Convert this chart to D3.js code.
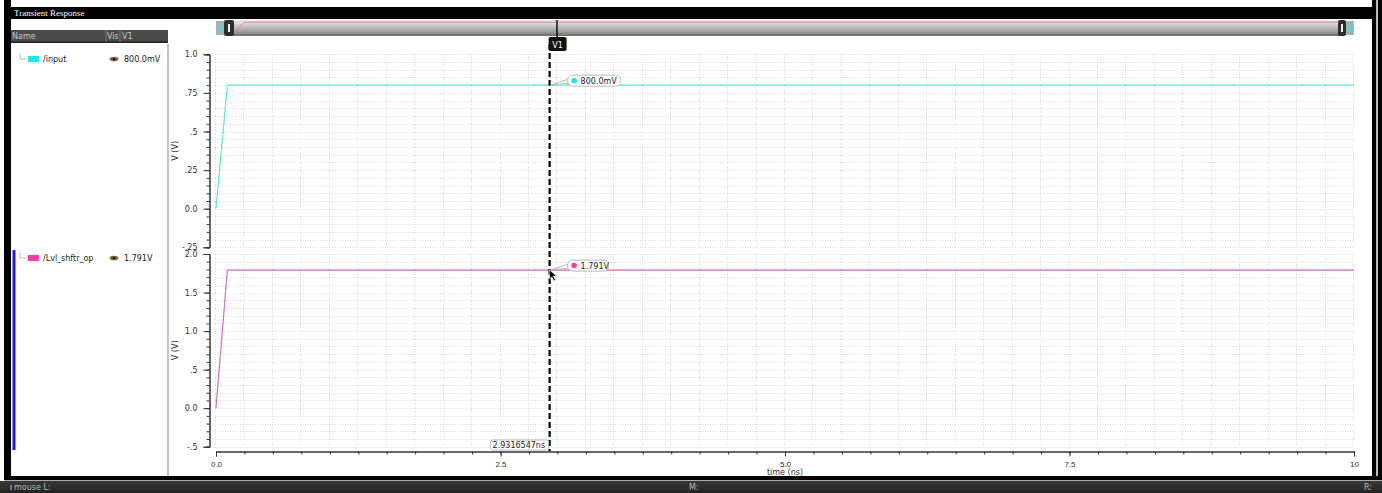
<!DOCTYPE html>
<html>
<head>
<meta charset="utf-8">
<script src="https://cdn.jsdelivr.net/npm/d3@7"></script>
<style>
  html, body { margin: 0; padding: 0; background: #fff; }
  svg { display: block; font-family: "DejaVu Sans", "Liberation Sans", sans-serif; }
</style>
</head>
<body>
<svg id="chart" width="1382" height="493"></svg>
<script>
// Transient simulation results (time in ns, voltages in V)
const timeNs = [0, 0.1, 10];
const inputV = [0, 0.8, 0.8];
const outputV = [0, 1.791, 1.791];

const signalNames = ["/input", "/Lvl_shftr_op"];
const signalColors = ["#5fe3e3", "#d36fc4"];
const legendSwatch = ["#22e5ee", "#ff3d9a"];
const cursorValueLabels = ["800.0mV", "1.791V"];
const cursorValues = [0.8, 1.791];

const cursorTime = 2.9316547;
const cursorTimeLabel = "2.9316547ns";

const xTickValues = [0, 2.5, 5, 7.5, 10];
const xTickLabels = ["0.0", "2.5", "5.0", "7.5", "10"];

const topTickValues = [1.0, 0.75, 0.5, 0.25, 0.0, -0.25];
const topTickLabels = ["1.0", ".75", ".5", ".25", "0.0", "-.25"];
const botTickValues = [2.0, 1.5, 1.0, 0.5, 0.0, -0.5];
const botTickLabels = ["2.0", "1.5", "1.0", ".5", "0.0", "-.5"];

const svg = d3.select("#chart");
const W = 1382, H = 493;
const defs = svg.append("defs");

// ---------- window chrome ----------
svg.append("rect").attr("x", 0).attr("y", 0).attr("width", W).attr("height", H).attr("fill", "#fff");
// left border
svg.append("rect").attr("x", 4).attr("y", 0).attr("width", 7).attr("height", 482).attr("fill", "#000");
// right border (double line)
svg.append("rect").attr("x", 1372).attr("y", 0).attr("width", 4).attr("height", 482).attr("fill", "#000");
svg.append("rect").attr("x", 1376).attr("y", 0).attr("width", 2).attr("height", 482).attr("fill", "#bbb");
svg.append("rect").attr("x", 1378).attr("y", 0).attr("width", 4).attr("height", 482).attr("fill", "#000");
// title bar
svg.append("rect").attr("x", 11).attr("y", 7).attr("width", 1361).attr("height", 12).attr("fill", "#000");
svg.append("text").attr("x", 14).attr("y", 16).attr("fill", "#fff")
  .style("font-family", "'Liberation Serif', serif").style("font-size", "9px").text("Transient Response");
// bottom border + status bar
svg.append("rect").attr("x", 4).attr("y", 476).attr("width", 1378).attr("height", 4).attr("fill", "#000");
svg.append("rect").attr("x", 4).attr("y", 480).attr("width", 1378).attr("height", 1).attr("fill", "#aaa");
const sg = defs.append("linearGradient").attr("id", "status").attr("x1", 0).attr("y1", 0).attr("x2", 0).attr("y2", 1);
sg.append("stop").attr("offset", 0).attr("stop-color", "#3a3a3a");
sg.append("stop").attr("offset", 1).attr("stop-color", "#222");
svg.append("rect").attr("x", 0).attr("y", 481).attr("width", W).attr("height", 12).attr("fill", "url(#status)");
svg.append("rect").attr("x", 10).attr("y", 485).attr("width", 2).attr("height", 5).attr("fill", "#777");
const statusStyle = s => s.attr("fill", "#b8b8b8").style("font-size", "8px");
svg.append("text").attr("x", 14).attr("y", 490).call(statusStyle).text("mouse L:");
svg.append("text").attr("x", 689).attr("y", 490).call(statusStyle).text("M:");
svg.append("text").attr("x", 1364).attr("y", 490).call(statusStyle).text("R:");

// ---------- left signal panel ----------
svg.append("rect").attr("x", 11).attr("y", 30).attr("width", 157).attr("height", 12).attr("fill", "#4b4b4b");
svg.append("rect").attr("x", 11).attr("y", 41).attr("width", 157).attr("height", 2).attr("fill", "#2b2b2b");
svg.append("line").attr("x1", 106).attr("x2", 106).attr("y1", 30).attr("y2", 42).attr("stroke", "#777");
svg.append("line").attr("x1", 120).attr("x2", 120).attr("y1", 30).attr("y2", 42).attr("stroke", "#777");
const headStyle = s => s.attr("fill", "#c8c8c8").style("font-size", "8px");
svg.append("text").attr("x", 12).attr("y", 39).call(headStyle).text("Name");
svg.append("text").attr("x", 107).attr("y", 39).call(headStyle).text("Vis");
svg.append("text").attr("x", 122).attr("y", 39).call(headStyle).text("V1");
// separator between panel and plots
svg.append("rect").attr("x", 167).attr("y", 44).attr("width", 2).attr("height", 432).attr("fill", "#c4c4c4");
// selection bar for the second signal
svg.append("rect").attr("x", 12.5).attr("y", 250).attr("width", 3).attr("height", 200).attr("fill", "#1a1aff");

const legendRows = [59, 258];
legendRows.forEach((ry, i) => {
  const g = svg.append("g");
  g.append("path").attr("d", `M20,${ry - 6}V${ry}H26`).attr("fill", "none").attr("stroke", "#bbb").attr("stroke-width", 1);
  g.append("rect").attr("x", 28).attr("y", ry - 3).attr("width", 11).attr("height", 6).attr("fill", legendSwatch[i]);
  g.append("text").attr("x", 43).attr("y", ry + 3).attr("fill", "#222").style("font-size", "8px").text(signalNames[i]);
  g.append("ellipse").attr("cx", 114).attr("cy", ry).attr("rx", 4.5).attr("ry", 2.3).attr("fill", "#8a6d45");
  g.append("circle").attr("cx", 114).attr("cy", ry).attr("r", 1.5).attr("fill", "#2a1e10");
  g.append("text").attr("x", 124).attr("y", ry + 3).attr("fill", "#222").style("font-size", "8px").text(cursorValueLabels[i]);
});

// ---------- scales ----------
const x = d3.scaleLinear().domain([0, 10]).range([216, 1354]);
const yTop = d3.scaleLinear().domain([-0.25, 1.0]).range([247.3, 54.3]);
const yBot = d3.scaleLinear().domain([-0.5, 2.0]).range([446.7, 254]);

// ---------- overview slider ----------
const tg = defs.append("linearGradient").attr("id", "track").attr("x1", 0).attr("y1", 0).attr("x2", 0).attr("y2", 1);
tg.append("stop").attr("offset", 0).attr("stop-color", "#eeeeee");
tg.append("stop").attr("offset", 0.3).attr("stop-color", "#cfcfcf");
tg.append("stop").attr("offset", 0.7).attr("stop-color", "#a2a2a2");
tg.append("stop").attr("offset", 1).attr("stop-color", "#6a6a6a");
svg.append("rect").attr("x", 225).attr("y", 20).attr("width", 1120).attr("height", 16).attr("rx", 4).attr("fill", "url(#track)");
const xs = d3.scaleLinear().domain([0, 10]).range([233, 1338]);
const ys = d3.scaleLinear().domain([0, 1.8]).range([35, 22]);
svg.append("path")
  .attr("d", d3.line().x((d, i) => xs(timeNs[i])).y(d => ys(d))(outputV))
  .attr("fill", "none").attr("stroke", "#e37ab0").attr("stroke-width", 1);
// end handles
[[224, 10], [1338, 8]].forEach(([hx, hw]) => {
  svg.append("rect").attr("x", hx).attr("y", 20).attr("width", hw).attr("height", 16).attr("rx", 2).attr("fill", "#2e2e2e");
  svg.append("rect").attr("x", hx + hw / 2 - 1).attr("y", 24).attr("width", 2).attr("height", 8).attr("fill", "#eee");
});
svg.append("rect").attr("x", 216).attr("y", 21).attr("width", 8).attr("height", 14).attr("fill", "#9fb4b4");
svg.append("path").attr("d", "M218,28L222,25.5V30.5Z").attr("fill", "#2ee");
svg.append("rect").attr("x", 1346).attr("y", 21).attr("width", 8).attr("height", 14).attr("fill", "#9fb4b4");
svg.append("path").attr("d", "M1352,28L1348,25.5V30.5Z").attr("fill", "#2ee");
// cursor position on the overview
svg.append("line").attr("x1", xs(cursorTime)).attr("x2", xs(cursorTime)).attr("y1", 20).attr("y2", 37)
  .attr("stroke", "#111").attr("stroke-width", 1.5);

// ---------- plot panels ----------
function panel(y, ticks, labels, minorStep, values, color) {
  const [y0, y1] = y.domain();
  const g = svg.append("g");
  // horizontal dotted grid at every minor step
  const minor = d3.range(Math.round((y1 - y0) / minorStep) + 1).map(k => y0 + k * minorStep);
  g.selectAll(".hg").data(minor).join("line")
    .attr("x1", x(0) - 1).attr("x2", x(10)).attr("y1", d => Math.round(y(d)) + 0.5).attr("y2", d => Math.round(y(d)) + 0.5)
    .attr("stroke", "#d9d9d9").attr("stroke-width", 1).attr("stroke-dasharray", "1,1.5");
  // vertical dotted grid every 0.25 ns
  const vg = d3.range(41).map(k => k * 0.25);
  g.selectAll(".vg").data(vg).join("line")
    .attr("x1", d => Math.round(x(d)) - 0.5).attr("x2", d => Math.round(x(d)) - 0.5)
    .attr("y1", y.range()[1]).attr("y2", y.range()[0])
    .attr("stroke", "#d9d9d9").attr("stroke-width", 1).attr("stroke-dasharray", "1,1.5");
  // y axis with minor ticks
  const ax = g.append("g").attr("transform", "translate(209.5,0)");
  ax.call(d3.axisLeft(y).tickValues(minor).tickSize(3).tickFormat(""));
  ax.append("g").call(d3.axisLeft(y).tickValues(ticks).tickSize(6).tickFormat((d, i) => labels[i]));
  ax.selectAll("path.domain").attr("stroke", "#333");
  ax.selectAll("line").attr("stroke", "#333");
  ax.selectAll("text").attr("fill", "#333").style("font-size", "8px").attr("dx", "-3px")
    .style("font-family", "'DejaVu Sans', sans-serif");
  // waveform
  g.append("path")
    .attr("d", d3.line().x((d, i) => x(timeNs[i])).y(d => y(d))(values))
    .attr("fill", "none").attr("stroke", color).attr("stroke-width", 1.2);
  // axis title
  const cy = (y.range()[0] + y.range()[1]) / 2;
  g.append("text").attr("transform", `translate(178,${cy}) rotate(-90)`).attr("text-anchor", "middle")
    .attr("fill", "#333").style("font-size", "8px").text("V (V)");
}
panel(yTop, topTickValues, topTickLabels, 0.05, inputV, signalColors[0]);
panel(yBot, botTickValues, botTickLabels, 0.1, outputV, signalColors[1]);

// ---------- x axis ----------
const xAxisG = svg.append("g").attr("transform", "translate(0,451.5)");
xAxisG.call(d3.axisBottom(x).tickValues(d3.range(41).map(k => k * 0.25)).tickSize(3).tickFormat(""));
xAxisG.append("g").call(d3.axisBottom(x).tickValues(xTickValues).tickSize(5).tickFormat((d, i) => xTickLabels[i]));
xAxisG.selectAll("path.domain").attr("stroke", "#333");
xAxisG.selectAll("line").attr("stroke", "#333");
xAxisG.selectAll("text").attr("fill", "#333").style("font-size", "8px").attr("dy", "0.9em");
svg.append("text").attr("x", x(5)).attr("y", 475).attr("text-anchor", "middle")
  .attr("fill", "#333").style("font-size", "8px").text("time (ns)");

// ---------- vertical cursor V1 ----------
const cx = x(cursorTime);
svg.append("line").attr("x1", cx).attr("x2", cx).attr("y1", 44).attr("y2", 451)
  .attr("stroke", "#000").attr("stroke-width", 2.2).attr("stroke-dasharray", "6,3");
svg.append("rect").attr("x", cx - 1).attr("y", 37).attr("width", 18).attr("height", 14).attr("rx", 2).attr("fill", "#111");
svg.append("text").attr("x", cx + 8).attr("y", 47.5).attr("text-anchor", "middle").attr("fill", "#fff")
  .style("font-size", "8px").text("V1");

// value bubbles at the cursor crossings
[yTop, yBot].forEach((y, i) => {
  const py = y(cursorValues[i]);
  const bw = i === 0 ? 53 : 41;
  const bx = cx + 18, by = py - 10;
  svg.append("path").attr("d", `M${cx},${py}L${bx + 1},${by + 4}L${bx + 1},${by + 8}Z`)
    .attr("fill", "#fff").attr("stroke", "#aaa").attr("stroke-width", 0.8);
  svg.append("rect").attr("x", bx).attr("y", by).attr("width", bw).attr("height", 11).attr("rx", 5)
    .attr("fill", "#fff").attr("stroke", "#aaa").attr("stroke-width", 0.8);
  svg.append("circle").attr("cx", bx + 6.5).attr("cy", by + 5.5).attr("r", 2.8).attr("fill", legendSwatch[i]);
  svg.append("text").attr("x", bx + 13).attr("y", by + 8.5).attr("fill", "#222").style("font-size", "8px")
    .text(cursorValueLabels[i]);
});

// mouse pointer near the lower crossing
const my = yBot(cursorValues[1]);
svg.append("path")
  .attr("d", `M${cx},${my}l0,9l2.2,-2.2l2,4l1.6,-0.8l-2,-4l3.2,0Z`)
  .attr("fill", "#000").attr("stroke", "#fff").attr("stroke-width", 0.6);

// cursor time label
svg.append("rect").attr("x", cx - 59).attr("y", 440).attr("width", 58).attr("height", 10).attr("rx", 2)
  .attr("fill", "#fff").attr("stroke", "#aaa").attr("stroke-width", 0.8);
svg.append("text").attr("x", cx - 57).attr("y", 448).attr("fill", "#222").style("font-size", "8px").text(cursorTimeLabel);
</script>
</body>
</html>
